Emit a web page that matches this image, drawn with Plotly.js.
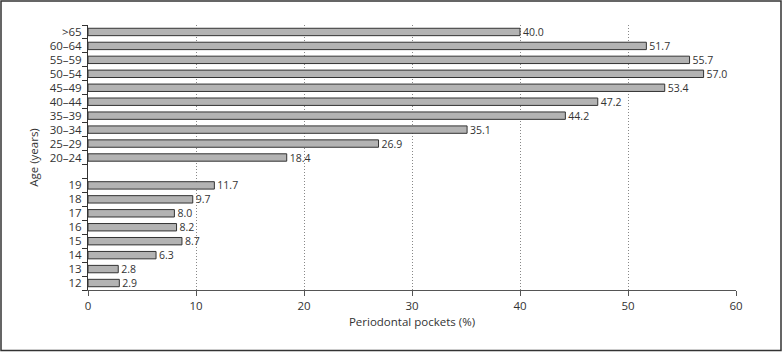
<!DOCTYPE html>
<html>
<head>
<meta charset="utf-8">
<script src="https://cdn.plot.ly/plotly-3.0.1.min.js"></script>
<style>html,body{margin:0;padding:0;background:#fff;}#chart{width:783px;height:352px;}</style>
</head>
<body>
<div id="chart"></div>
<script>
// Category order bottom to top (" " is the empty gap row)
const categoryOrder = ["12","13","14","15","16","17","18","19"," ","20–24","25–29","30–34","35–39","40–44","45–49","50–54","55–59","60–64",">65"];
const ageGroups = ["12","13","14","15","16","17","18","19","20–24","25–29","30–34","35–39","40–44","45–49","50–54","55–59","60–64",">65"];
const pockets = [2.9,2.8,6.3,8.7,8.2,8.0,9.7,11.7,18.4,26.9,35.1,44.2,47.2,53.4,57.0,55.7,51.7,40.0];
const xTicks = [0,10,20,30,40,50,60];

const L=88, R=736, T=25, B=290;
const W=R-L, H=B-T;

const trace = {
  type:'bar', orientation:'h',
  x: pockets, y: ageGroups,
  marker:{color:'#b3b3b3', line:{color:'#333', width:1}},
  text: pockets.map(v=>v.toFixed(1)),
  textposition:'outside',
  constraintext:'none',
  textfont:{family:'Open Sans, sans-serif', size:10.5, color:'#333'},
  cliponaxis:false,
  hoverinfo:'skip'
};

const layout = {
  width:783, height:352,
  margin:{l:L, r:783-R, t:T, b:352-B, pad:0},
  paper_bgcolor:'#fff', plot_bgcolor:'#fff',
  showlegend:false,
  bargap:0.47,
  font:{family:'Open Sans, sans-serif', color:'#333'},
  xaxis:{
    range:[0,60], tickvals:xTicks, ticktext:xTicks.map(String),
    showline:true, linecolor:'#555', linewidth:1,
    ticks:'outside', ticklen:5, tickcolor:'#555',
    showgrid:true, gridcolor:'#888', griddash:'1px,2px', gridwidth:1,
    zeroline:false,
    tickfont:{size:11.5, color:'#333'},
    title:{text:'Periodontal pockets (%)', font:{size:11.5, color:'#333'}, standoff:6}
  },
  yaxis:{
    type:'category', categoryorder:'array', categoryarray:categoryOrder,
    range:[-0.5, categoryOrder.length-0.5],
    dtick:1, tick0:0,
    showline:true, linecolor:'#333', linewidth:1,
    ticks:'outside', ticklen:5, tickcolor:'#333', tickson:'boundaries',
    ticklabelstandoff:3,
    showgrid:false, zeroline:false,
    tickfont:{size:11.5, color:'#333'},
    title:{text:'Age (years)', font:{size:11.5, color:'#333'}, standoff:8}
  },
  shapes:[{
    type:'rect', xref:'paper', yref:'paper',
    x0:(1-L)/W, x1:(781-L)/W, y0:(B-350.5)/H, y1:(B-1)/H,
    line:{color:'#333', width:1.5}, fillcolor:'rgba(0,0,0,0)', layer:'above'
  }]
};

Plotly.newPlot('chart',[trace],layout,{displayModeBar:false, staticPlot:true});
</script>
</body>
</html>
